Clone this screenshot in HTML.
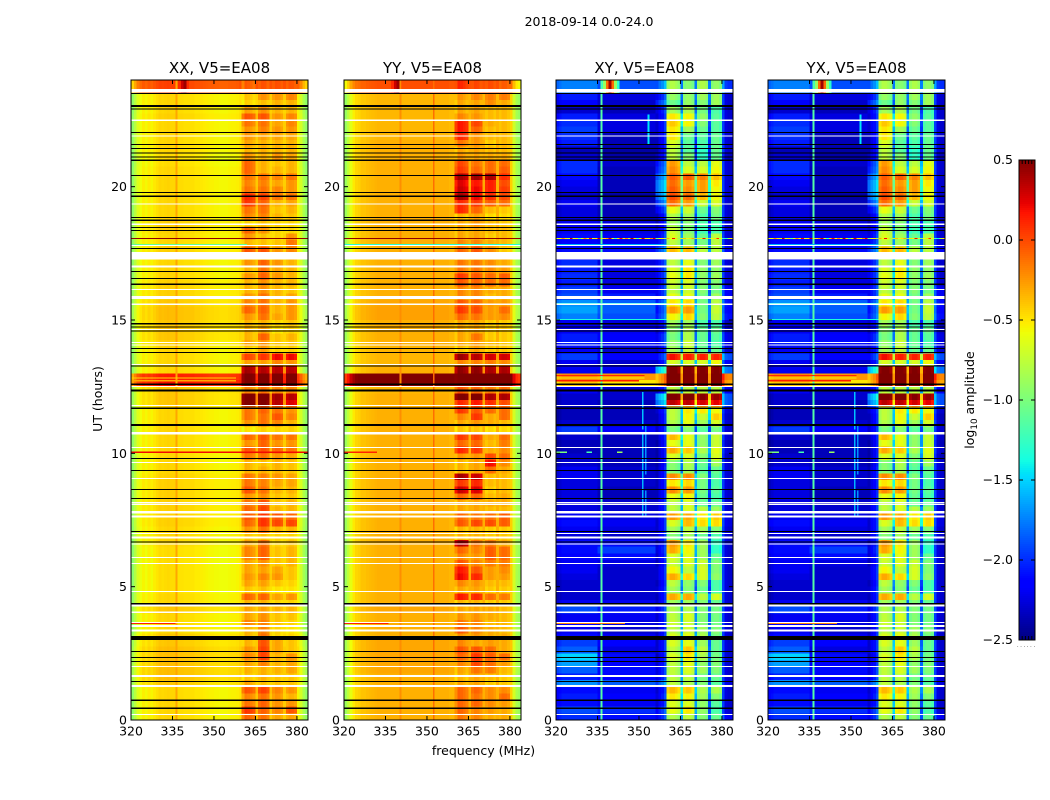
<!DOCTYPE html>
<html>
<head>
<meta charset="utf-8">
<title>2018-09-14 0.0-24.0</title>
<style>
html,body{margin:0;padding:0;background:#fff;width:1050px;height:800px;overflow:hidden}
svg{display:block}
text{font-family:"DejaVu Sans","Liberation Sans",sans-serif;fill:#000}
</style>
</head>
<body>
<svg id="figure" xmlns="http://www.w3.org/2000/svg" width="1050" height="800" viewBox="0 0 1050 800">
  <rect x="0" y="0" width="1050" height="800" fill="#fff"/>
  <text x="589" y="26" font-size="12.5" text-anchor="middle">2018-09-14 0.0-24.0</text>
  <text x="483.5" y="755" font-size="12.5" text-anchor="middle">frequency (MHz)</text>
  <text x="0" y="0" font-size="12.5" text-anchor="middle" transform="translate(102,399) rotate(-90)">UT (hours)</text>
  <text x="0" y="0" font-size="12.5" text-anchor="middle" transform="translate(974,400) rotate(-90)">log<tspan font-size="8.8" dy="3">10</tspan><tspan dy="-3"> amplitude</tspan></text>
  <g id="panels"></g>
  <g id="colorbar"></g>
</svg>
<script>
// ---- Chart data (log10 amplitude) ----
const panelTitles = ['XX, V5=EA08', 'YY, V5=EA08', 'XY, V5=EA08', 'YX, V5=EA08'];
const freqTicks = [320, 335, 350, 365, 380];
const hourTicks = [0, 5, 10, 15, 20];
const colorbarTicks = [0.5, 0.0, -0.5, -1.0, -1.5, -2.0, -2.5];

// Time rows run from 24 h downward in 0.25 h steps (four rows per line).
// Each XX / YY row: [out-of-band, sub-band 1, sub-band 2, sub-band 3, sub-band 4]
const xxTimeBands = [
[-.02,-.02,0,.02,0],[-.02,-.02,0,.02,0],[-.5,-.35,-.2,-.2,-.15],[-.5,-.4,-.35,-.3,-.3],
[-.5,-.25,-.2,-.3,-.3],[-.48,0,0,-.2,-.15],[-.5,-.1,-.1,-.25,-.15],[-.5,-.2,-.15,-.2,-.2],
[-.5,-.2,-.25,-.25,-.25],[-.5,-.25,-.3,-.3,-.3],[-.5,-.3,-.3,-.3,-.3],[-.52,-.2,-.3,-.2,-.25],
[-.52,-.05,-.3,-.35,-.3],[-.5,-.05,-.3,-.3,-.3],[-.5,-.1,-.1,-.15,-.1],[-.5,-.15,-.15,-.25,-.2],
[-.5,-.1,-.1,-.15,-.2],[-.5,.15,.05,-.1,-.1],[-.5,.1,-.05,-.3,-.25],[-.5,-.1,-.1,-.35,-.3],
[-.5,-.15,-.15,-.3,-.35],[-.48,-.4,-.35,-.4,-.4],[-.48,-.05,-.2,-.4,-.4],[-.5,-.2,-.35,-.4,-.2],
[-.5,-.3,-.35,-.35,-.1],[-.48,0,0,-.2,-.15],[-.5,-.3,-.3,-.3,-.3],[-.5,-.2,-.05,-.2,-.3],
[-.5,-.3,-.1,-.25,-.3],[-.5,-.2,-.05,-.2,-.3],[-.48,-.3,-.2,-.3,-.3],[-.48,-.3,-.2,-.3,-.35],
[-.48,-.2,-.1,-.3,-.25],[-.45,-.15,-.1,-.3,-.2],[-.42,-.05,-.05,-.3,-.2],[-.42,-.2,-.1,-.25,-.2],
[-.45,-.3,-.3,-.4,-.35],[-.45,-.3,-.25,-.45,-.4],[-.45,-.3,-.05,-.35,-.3],[-.48,-.25,-.2,-.35,-.35],
[-.5,-.4,-.25,-.4,-.4],[-.5,.05,.1,.25,.25],[-.5,-.25,-.25,-.15,-.2],[-.5,.45,.4,.4,.4],
[.1,.6,.6,.6,.6],[.15,.6,.6,.6,.6],[-.45,-.15,-.1,-.15,-.15],[-.45,.6,.6,.45,.4],
[-.45,.6,.55,.4,.3],[-.5,-.1,-.05,-.1,-.2],[-.5,-.1,-.1,0,-.15],[-.5,-.2,-.1,-.15,-.3],
[-.5,-.45,-.4,-.4,-.4],[-.5,-.05,0,-.1,-.1],[-.5,-.2,-.05,-.2,-.2],[-.5,0,0,-.05,-.1],
[-.5,-.1,-.1,-.2,-.25],[-.5,-.3,-.35,-.3,-.35],[-.5,-.3,-.3,-.3,-.35],[-.48,-.1,-.15,-.2,-.25],
[-.48,-.1,-.15,-.25,-.25],[-.48,0,-.1,-.3,-.3],[-.48,-.2,-.2,-.35,-.35],[-.48,-.1,0,-.35,-.3],
[-.48,-.05,.05,-.3,-.3],[-.48,0,.1,0,-.05],[-.48,-.05,.1,.05,.05],[-.5,-.2,-.1,-.3,-.3],
[-.5,-.35,-.35,-.4,-.4],[-.5,-.25,-.1,-.4,-.35],[-.52,-.15,-.05,-.35,-.3],[-.52,-.15,-.05,-.35,-.3],
[-.52,-.25,-.2,-.35,-.3],[-.52,-.25,-.25,-.25,-.35],[-.52,-.2,-.15,-.2,-.35],[-.52,-.25,-.25,-.35,-.4],
[-.52,-.35,-.35,-.45,-.45],[-.5,-.05,-.05,-.25,-.2],[-.5,-.3,-.3,-.4,-.4],[-.45,-.25,-.25,-.3,-.3],
[-.5,-.25,-.2,-.35,-.35],[-.5,-.15,-.15,-.35,-.4],[-.5,-.3,-.15,-.4,-.45],[-.45,-.3,-.1,-.4,-.4],
[-.45,-.3,0,-.25,-.35],[-.42,-.2,.05,-.25,-.35],[-.42,-.15,.05,-.3,-.2],[-.42,-.25,-.15,-.3,-.25],
[-.42,-.3,-.3,-.3,-.25],[-.42,-.35,-.3,-.35,-.35],[-.45,-.25,-.35,-.35,-.35],[-.5,0,.05,-.15,-.2],
[-.5,-.15,-.1,-.2,-.3],[-.5,-.1,-.05,-.2,-.2],[-.5,.1,-.05,-.15,0],[-.5,-.05,-.1,-.25,-.25]
];
const yyTimeBands = [
[-.02,.1,0,0,-.05],[-.02,.1,0,0,-.05],[-.35,-.25,-.2,-.15,-.15],[-.35,-.3,-.3,-.2,-.3],
[-.35,-.3,-.3,-.35,-.35],[-.35,-.2,-.25,-.35,-.35],[-.35,.15,0,-.3,-.35],[-.35,.15,-.1,-.35,-.35],
[-.35,.1,-.25,-.35,-.35],[-.33,-.15,-.25,-.4,-.35],[-.33,-.3,-.3,-.35,-.35],[-.33,-.25,-.3,-.3,-.3],
[-.33,0,-.15,-.1,-.1],[-.33,.05,-.1,-.1,-.05],[-.33,.4,.4,.4,.1],[-.33,.25,.15,.15,0],
[-.33,.3,.2,.15,.05],[-.33,.4,.2,.1,0],[-.33,.1,.05,-.05,-.1],[-.33,.1,-.1,-.35,-.4],
[-.33,-.35,-.3,-.45,-.45],[-.33,-.3,-.25,-.35,-.4],[-.33,-.3,-.3,-.35,-.35],[-.33,-.3,-.3,-.4,-.35],
[-.33,-.2,-.2,-.3,-.35],[-.33,-.1,-.05,-.2,-.4],[-.33,-.3,-.3,-.3,-.3],[-.33,-.15,-.15,-.2,-.3],
[-.33,-.15,-.15,-.2,-.25],[-.33,.05,-.05,-.1,-.05],[-.33,-.05,-.1,-.1,-.1],[-.33,-.2,-.2,-.3,-.3],
[-.33,-.2,-.2,-.35,-.3],[-.3,-.05,-.1,-.25,-.25],[-.28,.05,-.02,-.25,-.1],[-.28,-.1,-.15,-.25,-.2],
[-.33,-.3,-.3,-.4,-.4],[-.33,-.3,-.3,-.4,-.4],[-.33,-.3,-.15,-.4,-.4],[-.33,-.3,-.25,-.35,-.4],
[-.35,-.4,-.3,-.4,-.4],[-.35,.42,.35,.3,.3],[-.35,-.2,-.2,-.15,-.2],[-.33,.45,.45,.4,.4],
[.6,.6,.6,.6,.6],[.6,.6,.6,.6,.6],[-.35,-.05,-.1,-.15,-.1],[-.33,.55,.55,.4,.4],
[-.33,.1,.15,.1,0],[-.33,.05,-.05,-.1,-.1],[-.33,-.2,.05,-.3,-.1],[-.33,-.3,-.25,-.3,-.35],
[-.33,-.4,-.4,-.45,-.45],[-.33,.05,0,-.3,-.1],[-.33,-.1,-.1,-.35,-.15],[-.33,.1,.05,-.3,-.2],
[-.33,-.25,-.25,0,-.1],[-.33,-.35,-.3,.2,-.2],[-.33,-.35,-.3,-.1,-.3],[-.33,.4,.3,-.35,-.35],
[-.33,.05,.1,-.35,-.35],[-.33,.3,.25,-.4,-.35],[-.33,-.1,-.1,-.35,-.3],[-.33,-.3,-.3,-.3,-.3],
[-.33,-.3,-.3,-.35,-.35],[-.33,-.1,-.15,-.1,-.05],[-.33,-.05,0,0,-.05],[-.33,-.35,-.35,-.4,-.4],
[-.33,-.35,-.35,-.4,-.4],[-.33,.35,-.15,-.15,-.3],[-.33,-.1,-.2,-.05,-.1],[-.33,-.2,-.25,-.05,-.1],
[-.33,-.05,-.2,-.15,-.15],[-.33,.15,-.05,-.25,-.2],[-.33,.2,.1,-.25,-.25],[-.33,-.2,-.25,-.35,-.35],
[-.33,-.3,-.3,-.4,-.4],[-.33,.15,.1,-.1,-.15],[-.33,-.35,-.35,-.4,-.4],[-.3,-.3,-.3,-.3,-.35],
[-.33,-.25,-.25,-.3,-.35],[-.33,-.15,-.2,-.35,-.35],[-.33,-.05,-.2,-.3,-.35],[-.33,-.25,-.25,-.3,-.3],
[-.3,-.2,-.3,-.25,-.3],[-.3,-.05,-.05,-.1,-.3],[-.3,-.1,.05,-.05,-.1],[-.3,-.2,0,-.1,-.25],
[-.3,-.3,-.15,-.15,-.35],[-.33,-.35,-.3,-.35,-.4],[-.33,-.3,-.3,-.4,-.4],[-.33,-.1,-.1,-.2,-.2],
[-.33,-.1,-.15,-.2,-.1],[-.33,-.1,-.1,-.2,-.25],[-.33,-.1,-.2,-.25,-.3],[-.33,-.15,-.2,-.3,-.3]
];
// Each XY / YX row: [320-335 MHz, 335-356 MHz, 356-360 MHz, sub-band 1-4, 380-384 MHz]
const crossTimeBands = [
[-1.75,-1.9,-1.8,-.85,-1,-.85,-.95,-2],[-1.75,-1.9,-1.8,-.85,-1,-.85,-.95,-2],[-2.05,-2.25,-2.1,-.95,-.95,-.9,-.9,-2.3],[-2.15,-2.3,-1.95,-1.1,-.95,-1,-.9,-2.3],
[-2.3,-2.35,-2.15,-.9,-.85,-1.05,-1.2,-2.3],[-2.05,-2.25,-2.2,-.55,-.6,-.95,-1.15,-2.3],[-2,-2.25,-2.2,-.45,-.6,-1,-1.15,-2.3],[-1.95,-2.25,-2.2,-.55,-.9,-1.1,-1.15,-2.3],
[-2,-2.35,-2.25,-.55,-1.1,-1.15,-1.1,-2.3],[-2.05,-2.35,-2.25,-.7,-1.15,-1.2,-1.1,-2.3],[-2.35,-2.4,-2.3,-.8,-1.15,-1.3,-1.1,-2.3],[-2.3,-2.4,-2.25,-.8,-1,-1.3,-1.1,-2.35],
[-2,-2.3,-2,-.3,-.8,-.8,-.65,-2.3],[-2,-2.35,-1.95,-.25,-.7,-.7,-.6,-2.3],[-2.1,-2.35,-1.8,-.1,-.1,-.2,-.4,-2.3],[-2.2,-2.35,-1.7,-.15,-.3,-.3,-.55,-2.3],
[-2.25,-2.35,-1.7,-.1,-.25,-.3,-.6,-2.3],[-2.3,-2.4,-1.75,-.05,-.15,-.4,-.6,-2.3],[-2.2,-2.35,-1.9,-.15,-.3,-.75,-.7,-2.3],[-2.25,-2.35,-2.1,-.65,-.75,-1.1,-1,-2.3],
[-2.25,-2.35,-2.25,-.85,-.9,-1.2,-1.05,-2.3],[-2.2,-2.25,-2.25,-.9,-1,-1.2,-1.2,-2.3],[-2.2,-2.25,-2.2,-.75,-1,-1.25,-1.2,-2.3],[-2.1,-2.2,-2.15,-.7,-.9,-1.1,-.8,-2.3],
[-2.15,-2.2,-2.1,-.8,-.9,-1.05,-.8,-2.3],[-2.1,-2.1,-1.9,-.4,-.4,-.8,-.8,-2.2],[-2.15,-2.2,-2.1,-.8,-.8,-1,-.9,-2.3],[-2,-2.25,-2.1,-.8,-.65,-1,-.9,-2.3],
[-2.05,-2.25,-2.1,-.7,-.55,-.95,-.95,-2.3],[-2,-2.25,-2.1,-.65,-.55,-.95,-.9,-2.3],[-2.05,-2.25,-2.15,-.75,-.7,-1,-1,-2.3],[-1.95,-2.2,-2.1,-.8,-.75,-1,-1.05,-2.2],
[-1.9,-2.05,-2.1,-.65,-.65,-1.05,-.9,-2.2],[-1.7,-1.85,-1.95,-.55,-.5,-1.05,-.8,-2.1],[-1.65,-1.85,-2,-.3,-.3,-1.05,-.75,-2.15],[-1.75,-1.9,-1.95,-.6,-.5,-1,-.8,-2.1],
[-2.2,-2.25,-2.2,-.9,-.9,-1.2,-1.2,-2.35],[-2.2,-2.2,-2.2,-1,-.85,-1.1,-1.1,-2.3],[-2.05,-2.15,-2.1,-1.05,-.85,-1.1,-1.15,-2.25],[-2.05,-2.1,-2.1,-.95,-.75,-1.1,-1.2,-2.25],
[-2.2,-2.3,-2.25,-.9,-.8,-1.1,-1.1,-2.3],[-1.95,-2.15,-2.05,.15,.1,.1,.1,-1.9],[-2.2,-2.3,-2.2,-.7,-.7,-.7,-.6,-2.2],[-2.2,-2.2,-1.5,.5,.5,.5,.5,-1.8],
[-.2,-.25,-.3,.6,.6,.6,.6,-.2],[-.4,-.5,-.35,.6,.6,.6,.6,-.3],[-2.2,-2.3,-2.2,-.8,-.8,-.8,-.8,-2.2],[-2.3,-2.3,-1.6,.55,.55,.45,.4,-1.9],
[-2.3,-2.35,-1.7,.3,.3,.25,.2,-1.9],[-2.35,-2.35,-2.2,-.8,-.55,-.55,-.6,-2.3],[-2.35,-2.35,-2.25,-.8,-.6,-.75,-.45,-2.35],[-2.3,-2.3,-2.25,-.85,-.65,-.9,-.7,-2.3],
[-1.95,-2.15,-2.2,-1.05,-1,-1.15,-1.05,-2.3],[-2.3,-2.35,-2.25,-.4,-.65,-.95,-.75,-2.3],[-2.35,-2.35,-2.3,-.65,-.65,-.95,-.75,-2.35],[-2.35,-2.35,-2.3,-.35,-.45,-.85,-.65,-2.3],
[-2.3,-2.35,-2.3,-.7,-.7,-1,-.7,-2.35],[-2.3,-2.35,-2.3,-1,-.85,-1.1,-.9,-2.3],[-2.2,-2.3,-2.25,-1,-.9,-1.15,-1.1,-2.3],[-2.2,-2.3,-2.25,-.25,-.25,-1,-1.15,-2.3],
[-2.25,-2.3,-2.25,-.55,-.5,-1.05,-1.2,-2.3],[-2.25,-2.35,-2.25,-.25,-.3,-1.05,-1.15,-2.3],[-2.25,-2.35,-2.25,-.65,-.6,-1.1,-1.2,-2.3],[-2.25,-2.3,-2.2,-.8,-.7,-1.1,-1.1,-2.3],
[-2.25,-2.3,-2.2,-.8,-.7,-.8,-.9,-2.3],[-2.2,-2.25,-2.2,-.3,-.35,-.55,-.45,-2.25],[-2.1,-2.2,-2.2,-.7,-.4,-.5,-.5,-2.25],[-2.2,-2.25,-2.2,-.9,-.8,-.9,-1,-2.3],
[-2.25,-2.3,-2.2,-1,-.9,-1.1,-1.2,-2.3],[-2.1,-2.1,-2.2,-.3,-.55,-.9,-1.3,-2.3],[-2.1,-1.95,-2.15,-.35,-.6,-.9,-1.3,-2.3],[-2.15,-2.1,-2.2,-.7,-.65,-.9,-1.1,-2.3],
[-2.2,-2.25,-2.25,-.75,-.7,-.75,-1,-2.3],[-2.2,-2.3,-2.2,-.6,-.8,-.7,-1,-2.3],[-2.25,-2.3,-2.2,-.35,-.5,-.7,-.95,-2.3],[-2.3,-2.3,-2.25,-.8,-.95,-1,-1.2,-2.3],
[-2.3,-2.3,-2.2,-.9,-1,-1.1,-1.2,-2.3],[-2.3,-2.3,-2.25,-.35,-.35,-.8,-.7,-2.3],[-2.2,-2.2,-2.2,-.9,-.9,-1,-1.1,-2.3],[-1.9,-2.05,-2.1,-.85,-.85,-1,-1.05,-2.25],
[-2.2,-2.2,-2.2,-.8,-.7,-1,-1.05,-2.3],[-2.15,-2.25,-2.2,-.75,-.75,-1,-1.05,-2.3],[-2.2,-2.3,-2.25,-.8,-.75,-.9,-1,-2.3],[-2.1,-2.2,-2.2,-.7,-.65,-.85,-1.05,-2.3],
[-1.95,-2.15,-2.2,-.7,-.65,-.9,-1.1,-2.3],[-1.85,-2.25,-2.2,-.8,-.45,-.8,-1.1,-2.3],[-1.5,-2.1,-2.25,-.7,-.55,-.85,-1.05,-2.3],[-1.65,-2.15,-2.2,-.8,-.65,-.95,-1,-2.3],
[-1.85,-2.1,-2.15,-.8,-.7,-.9,-1,-2.3],[-2.05,-2.15,-2.15,-.8,-.8,-1.05,-1.1,-2.3],[-1.7,-1.85,-1.85,-.8,-.85,-1,-1.15,-2.25],[-2.1,-2.2,-2.2,-.4,-.45,-.85,-.85,-2.3],
[-2.05,-2.15,-2.15,-.55,-.6,-.9,-1,-2.3],[-2.1,-2.2,-2.2,-.7,-.7,-.95,-1.15,-2.3],[-1.9,-2,-2.05,-.65,-.55,-.95,-1.2,-2.3],[-2,-2.1,-2.1,-.85,-.8,-1,-1.1,-2.2]
];

// Per-channel offsets for the 64 one-MHz columns, 320 to 383 MHz.
const xxChannelOffsets = [
-.42,-.28,-.14,-.08,-.03,-.06,-.02,-.05,-.01,.02,.05,.04,.05,.06,.05,.05,
.03,.03,.03,.02,.02,.02,.02,0,0,-.01,-.02,-.03,-.04,-.04,-.05,-.05,
-.06,-.06,-.06,-.05,-.04,-.04,-.03,0,-.16,-.02,-.04,-.07,-.12,0,-.07,-.02,
-.03,-.09,0,-.08,-.03,-.04,-.09,0,-.08,-.03,-.04,-.08,-.05,-.18,-.33,-.42
];
const yyChannelOffsets = [
-.55,-.42,-.28,-.18,-.12,-.1,-.06,-.06,-.04,-.03,-.02,-.01,0,0,0,0,
0,0,0,0,0,0,0,0,0,0,0,0,0,0,0,0,
0,0,0,0,0,0,-.02,-.02,-.12,.03,.01,-.03,-.08,0,-.03,.02,
.01,-.05,0,-.05,0,-.01,-.06,0,-.05,0,-.01,-.05,-.1,-.35,-.5,-.55
];
const crossChannelOffsets = [
-.08,-.04,0,0,0,0,0,0,0,0,0,0,0,0,0,0,
0,0,0,0,0,0,0,0,0,0,0,0,0,0,0,0,
0,0,0,0,-.1,.02,.1,.25,-.05,.05,.05,0,-.08,0,0,.05,
.04,-.04,0,-.04,.04,.04,-.04,0,-.04,.04,.04,-.04,.35,.05,0,0
];

// Flagged (blanked) intervals: [hour centre, duration in hours]
const blackFlags = [
[23.5,.04],[23.025,.07],[22.91,.04],[22.03,.05],[21.575,.04],[21.425,.04],[21.26,.04],[21.11,.04],[20.99,.04],[20.425,.04],
[19.775,.04],[19.64,.04],[18.85,.04],[18.74,.04],[18.475,.04],[18.35,.04],[17.675,.04],[16.825,.04],[16.56,.04],[16.34,.04],
[14.86,.07],[14.74,.04],[14.59,.04],[13.925,.04],[13.775,.04],[13.275,.04],[12.59,.07],[12.35,.07],[11.69,.04],[11.06,.07],
[9.8,.04],[9.36,.04],[8.65,.04],[8.31,.04],[7.075,.04],[6.675,.04],[4.36,.04],[3.075,.15],[2.575,.04],[2.35,.04],
[2.2,.04],[1.45,.04],[.74,.04],[.44,.04]
];
const whiteFlags = [
[23.6,.125],[22.49,.04],[21.9,.04],[19.35,.04],[18.59,.04],[17.8,.04],[17.41,.275],[17,.07],[16.15,.04],
[15.85,.11],[15.59,.04],[14.65,.04],[14.16,.04],[14.06,.04],[13.325,.04],[12.51,.04],[11.79,.04],[10.76,.09],[10.225,.04],
[9.66,.04],[9.06,.04],[8.16,.04],[8.09,.04],[7.79,.11],[7.64,.075],[6.99,.04],[6.84,.07],[6.6,.04],[6.1,.04],
[5.875,.04],[4.825,.04],[4.3,.09],[4.04,.07],[3.66,.04],[3.525,.09],[3.35,.07],[2.01,.04],[1.65,.07],[1.275,.07],[.2,.04]
];

// Narrow horizontal interference streaks: [hour, start MHz, end MHz, value]
const xxStreaks = [[18.06,320,384,.46],[17.83,320,362,-1.1],[12.82,320,358,-.45],[12.72,320,358,-.3],[10.04,320,384,.2],[3.63,320,336,.12]];
const yyStreaks = [[18.06,320,384,.46],[17.83,320,384,-1.3],[10.04,320,332,.12],[3.63,320,336,.12]];
const crossStreaks = [[17.83,320,360,-1.6],[15.62,320,360,-1.4],[15.58,320,360,-1.4],[15.02,320,360,-1.35],[12.92,320,352,.1],[12.82,320,352,-.55],[12.72,320,350,.15],[3.63,320,345,-.2],[10.04,320,324,-1],[10.04,331,333,-1.2],[10.04,342,344,-.9]];
// Speckled row near 18 h in the cross hands, 64 channels.
const crossSpeckle = [
-.6,-.6,-.2,-.5,-.7,.3,-.6,-.5,-1.1,-.6,-.2,-.6,.2,-.6,-.5,.35,
-.7,-.5,-.3,.3,-.6,-1.2,-.5,.2,-.6,-.2,-.7,.35,-.5,-1.1,-.6,.3,
-.5,-.6,-.2,.25,-1,-.6,-.5,-.9,-.3,-.6,.2,-.5,-.9,-.6,-.4,-.6,
-.5,-.3,-1,-.5,-.6,.2,-.6,-.9,-.6,-.5,.1,-.6,-1.2,-1.4,-.8,-.5
];
// Narrow vertical lines: [MHz, hour from, hour to, value]
const xxSpurs = [[336,0,24,-.3]];
const yySpurs = [[340,0,24,-.22],[352,0,24,-.12]];
const crossSpurs = [[336,0,24,-1.15],[351,10.9,12.3,-1.55],[351,7.6,10.7,-1.6],[352,9.2,11.1,-1.7],[352,7.6,8.6,-1.7],[353,21.6,22.7,-1.45]];
// Hot channels in the top time rows: [column, value]
const parallelHotChannels = [[17,.1],[18,.3],[19,.42],[20,.1]];
const crossHotChannels = [[16,-1.3],[17,-.9],[18,-.1],[19,.42],[20,-.1],[21,-.9],[22,-1.3]];

// ---- Axis functions ----
const NS = 'http://www.w3.org/2000/svg';
const PANEL_W = 177, TOP = 80, BOTTOM = 720;
const panelLeft = [131, 344, 556, 768];
function xScale(left, mhz) { return left + (mhz - 320) * 177 / 64; }
function yScale(hour) { return BOTTOM - hour * (BOTTOM - TOP) / 24; }
function cbY(v) { return 160 + (0.5 - v) * 160; }

function jetPart(t, pts) {
  for (let i = 1; i < pts.length; i++) {
    if (t <= pts[i][0]) {
      const a = pts[i - 1], b = pts[i];
      return a[1] + (b[1] - a[1]) * (t - a[0]) / (b[0] - a[0]);
    }
  }
  return pts[pts.length - 1][1];
}
function jet(v) {
  const t = Math.max(0, Math.min(1, (v + 2.5) / 3));
  const r = jetPart(t, [[0,0],[.35,0],[.66,1],[.89,1],[1,.5]]);
  const g = jetPart(t, [[0,0],[.125,0],[.375,1],[.64,1],[.91,0],[1,0]]);
  const b = jetPart(t, [[0,.5],[.11,1],[.34,1],[.65,0],[1,0]]);
  return 'rgb(' + Math.round(r * 255) + ',' + Math.round(g * 255) + ',' + Math.round(b * 255) + ')';
}
function make(tag, attrs, parent) {
  const el = document.createElementNS(NS, tag);
  for (const k in attrs) el.setAttribute(k, attrs[k]);
  parent.appendChild(el);
  return el;
}

// Sub-band slot of a column: -1 out of band, 0-3 sub-band, 4-6 gap after sub-band n-4
function slotOf(col) {
  if (col < 40 || col > 59) return -1;
  if (col <= 44) return 0;
  if (col === 45) return 4;
  if (col <= 49) return 1;
  if (col === 50) return 5;
  if (col <= 54) return 2;
  if (col === 55) return 6;
  return 3;
}
function parallelValue(row, col, offsets) {
  const s = slotOf(col);
  if (s < 0) return row[0] + offsets[col];
  if (s < 4) return row[s + 1] + offsets[col];
  const mean = (row[s - 3] + row[s - 2]) / 2;
  return Math.max(row[0], mean * .3 - .36);
}
function crossValue(row, col) {
  const s = slotOf(col);
  const off = crossChannelOffsets[col];
  if (s < 0) {
    const base = col < 15 ? row[0] : col < 36 ? row[1] : col < 40 ? row[2] : row[7];
    return base + off;
  }
  if (s < 4) return row[s + 3] + off;
  return (row[s - 1] + row[s]) / 2 - .85;
}

const panelsGroup = document.getElementById('panels');
const panelKeys = ['xx', 'yy', 'xy', 'yx'];
const cellH = (BOTTOM - TOP) / 96;

panelTitles.forEach(function (title, p) {
  const left = panelLeft[p];
  const key = panelKeys[p];
  const cross = p >= 2;
  const rows = p === 0 ? xxTimeBands : p === 1 ? yyTimeBands : crossTimeBands;
  const offsets = p === 0 ? xxChannelOffsets : yyChannelOffsets;
  const hot = cross ? crossHotChannels : parallelHotChannels;
  const streaks = p === 0 ? xxStreaks : p === 1 ? yyStreaks : crossStreaks;
  const spurs = p === 0 ? xxSpurs : p === 1 ? yySpurs : crossSpurs;

  const group = make('g', {}, panelsGroup);
  
  

  const heat = make('g', { 'shape-rendering': 'crispEdges' }, group);
  
  

  rows.forEach(function (row, r) {
    const hourTop = 24 - r * .25;
    for (let c = 0; c < 64; c++) {
      let v = cross ? crossValue(row, c) : parallelValue(row, c, offsets);
      if (r <= 1) hot.forEach(function (h) { if (h[0] === c) v = h[1]; });
      const x0 = xScale(left, 320 + c), x1 = xScale(left, 321 + c);
      const cell = make('rect', { x: x0, y: yScale(hourTop), width: x1 - x0 + .3, height: cellH + .3, fill: jet(v) }, heat);
      
      
    }
  });

  const marks = make('g', { 'shape-rendering': 'crispEdges' }, group);
  
  

  spurs.forEach(function (s) {
    const spur = make('rect', { x: xScale(left, s[0]) + .4, y: yScale(s[2]), width: 1.6, height: yScale(s[1]) - yScale(s[2]), fill: jet(s[3]) }, marks);
    
    
  });
  if (cross) {
    crossSpeckle.forEach(function (v, c) {
      const dot = make('rect', { x: xScale(left, 320 + c), y: yScale(18.06) - .6, width: 177 / 64 + .3, height: 1.3, fill: jet(v) }, marks);
      
      
    });
  }
  streaks.forEach(function (s) {
    const line = make('rect', { x: xScale(left, s[1]), y: yScale(s[0]) - .6, width: xScale(left, s[2]) - xScale(left, s[1]), height: 1.2, fill: jet(s[3]) }, marks);
    
    
  });
  whiteFlags.forEach(function (f) {
    const band = make('rect', { x: left, y: yScale(f[0] + f[1] / 2), width: PANEL_W, height: Math.max(1, f[1] * 640 / 24), fill: '#fff' }, marks);
    
    
  });
  blackFlags.forEach(function (f) {
    const band = make('rect', { x: left, y: yScale(f[0] + f[1] / 2), width: PANEL_W, height: Math.max(1, f[1] * 640 / 24), fill: '#000' }, marks);
    
    
  });

  const frame = make('rect', { x: left, y: TOP, width: PANEL_W, height: BOTTOM - TOP, fill: 'none', stroke: '#000', 'stroke-width': 1 }, group);
  
  

  const titleEl = make('text', { x: left + PANEL_W / 2, y: 73, 'font-size': 15, 'text-anchor': 'middle' }, group);
  titleEl.textContent = title;
  
  

  freqTicks.forEach(function (f) {
    const x = xScale(left, f);
    const tb = make('line', { x1: x, x2: x, y1: BOTTOM, y2: BOTTOM - 4, stroke: '#000', 'stroke-width': 1 }, group);
    
    
    const tt = make('line', { x1: x, x2: x, y1: TOP, y2: TOP + 4, stroke: '#000', 'stroke-width': 1 }, group);
    
    
    const lab = make('text', { x: x, y: 735.5, 'font-size': 12.5, 'text-anchor': 'middle' }, group);
    lab.textContent = String(f);
    
    
  });
  hourTicks.forEach(function (h) {
    const y = yScale(h);
    const tl = make('line', { x1: left, x2: left + 4, y1: y, y2: y, stroke: '#000', 'stroke-width': 1 }, group);
    
    
    const tr = make('line', { x1: left + PANEL_W, x2: left + PANEL_W - 4, y1: y, y2: y, stroke: '#000', 'stroke-width': 1 }, group);
    
    
    const lab = make('text', { x: left - 4, y: y + 4.5, 'font-size': 12.5, 'text-anchor': 'end' }, group);
    lab.textContent = String(h);
    
    
  });
});

// ---- Colorbar ----
const cb = document.getElementById('colorbar');
const CB_L = 1019, CB_W = 16;
const ramp = make('g', { 'shape-rendering': 'crispEdges' }, cb);


for (let py = 160; py < 640; py += 2) {
  const v = 0.5 - (py + 1 - 160) / 160;
  const s = make('rect', { x: CB_L, y: py, width: CB_W, height: 2.2, fill: jet(v) }, ramp);
  
  
}
const cbFrame = make('rect', { x: CB_L, y: 160, width: CB_W, height: 480, fill: 'none', stroke: '#000', 'stroke-width': 1 }, cb);


colorbarTicks.forEach(function (v) {
  const y = cbY(v);
  const a = make('line', { x1: CB_L, x2: CB_L + 4, y1: y, y2: y, stroke: '#000', 'stroke-width': 1 }, cb);
  
  
  const b = make('line', { x1: CB_L + CB_W, x2: CB_L + CB_W - 4, y1: y, y2: y, stroke: '#000', 'stroke-width': 1 }, cb);
  
  
  const t = make('text', { x: 1013, y: y + 4, 'font-size': 12.5, 'text-anchor': 'end' }, cb);
  t.textContent = v.toFixed(1).replace('-', '\u2212');
  
  
});
[0, 1, 2, 3, 4, 5].forEach(function (i) {
  const x = CB_L + i * CB_W / 5;
  const top = make('line', { x1: x, x2: x, y1: 160, y2: 164, stroke: '#000', 'stroke-width': 1 }, cb);
  
  
  const bot = make('line', { x1: x, x2: x, y1: 640, y2: 636, stroke: '#000', 'stroke-width': 1 }, cb);
  
  
});
const dots = make('text', { x: 1017, y: 647, 'font-size': 5, fill: '#666', 'letter-spacing': '1.7' }, cb);
dots.textContent = '......';


</script>
</body>
</html>
